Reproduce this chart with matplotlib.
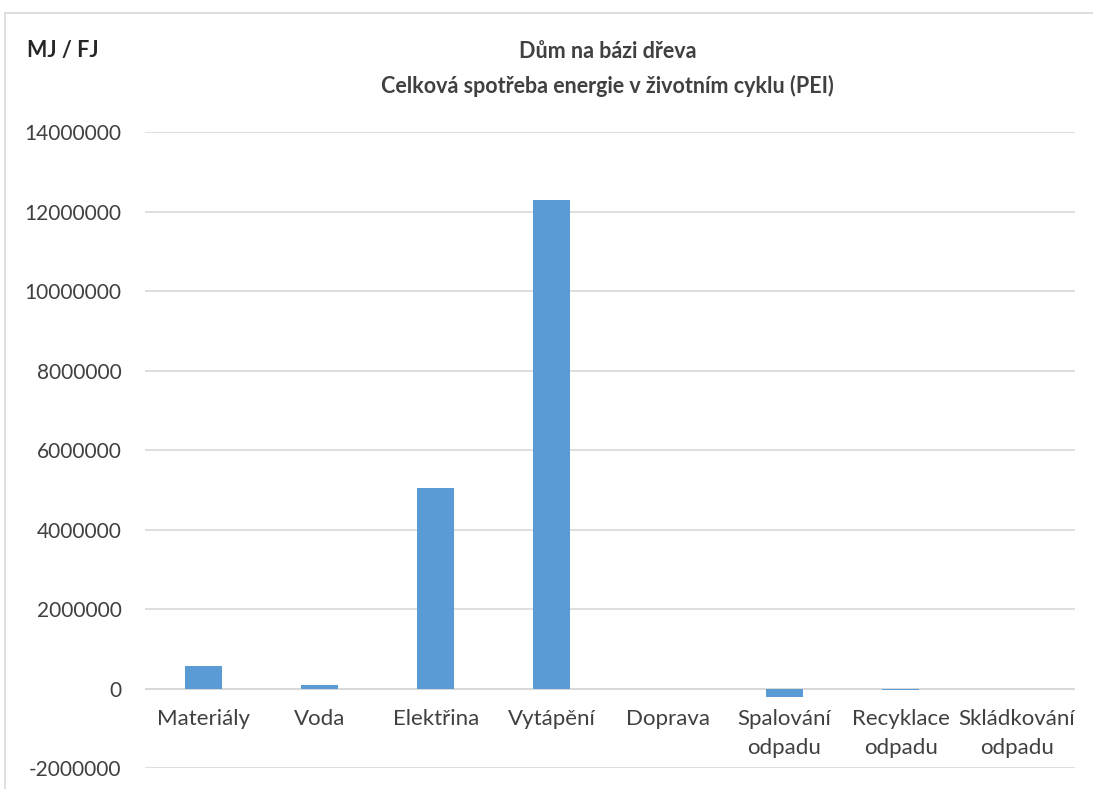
import matplotlib.pyplot as plt
from matplotlib.lines import Line2D
from matplotlib.ticker import MultipleLocator

plt.rcParams['font.family'] = ['Lato', 'DejaVu Sans']

# Data
kategorie = ["Materiály", "Voda", "Elektřina", "Vytápění", "Doprava",
             "Spalování\nodpadu", "Recyklace\nodpadu", "Skládkování\nodpadu"]
hodnoty = [570000, 80000, 5050000, 12300000, 0, -210000, -50000, 0]

fig = plt.figure(figsize=(10.93, 7.89), dpi=100)
ax = fig.add_axes([0.1327, 0.0266, 0.8508, 0.8061])

x = list(range(len(kategorie)))
ax.bar(x, hodnoty, width=0.32, color="#5B9BD5", linewidth=0, zorder=3)

ax.set_xlim(-0.5, len(kategorie) - 0.5)
ax.set_ylim(-2000000, 14000000)
ax.yaxis.set_major_locator(MultipleLocator(2000000))
ax.grid(axis="y", color="#d9d9d9", linewidth=1.2, zorder=0)
ax.axhline(0, color="#d9d9d9", linewidth=1.4, zorder=2)
for s in ax.spines.values():
    s.set_visible(False)
ax.tick_params(axis="y", length=0, pad=17, labelsize=15, labelcolor="#404040")
ax.tick_params(axis="x", length=0, labelbottom=False)
ax.yaxis.set_major_formatter(lambda v, p: f"{int(v)}")

# category labels sit just below the zero line
for i, lab in enumerate(kategorie):
    ax.annotate(lab, (i, 0), xytext=(0, -15), textcoords="offset points",
                ha="center", va="top", fontsize=16, color="#404040",
                linespacing=1.55)

fig.text(0.556, 0.9125, "Dům na bázi dřeva\nCelková spotřeba energie v životním cyklu (PEI)",
         ha="center", va="center", fontsize=15.5, fontweight="bold",
         color="#404040", linespacing=1.75)
fig.text(0.025, 0.9366, "MJ / FJ", ha="left", va="center", fontsize=15.5,
         fontweight="bold", color="#262626")

# chart frame
fig.add_artist(Line2D([0.0046, 0.0046], [0, 0.9835], color="#d9d9d9", lw=1.2))
fig.add_artist(Line2D([0.0046, 1], [0.9835, 0.9835], color="#d9d9d9", lw=1.2))

fig.savefig("out.png", dpi=100)
